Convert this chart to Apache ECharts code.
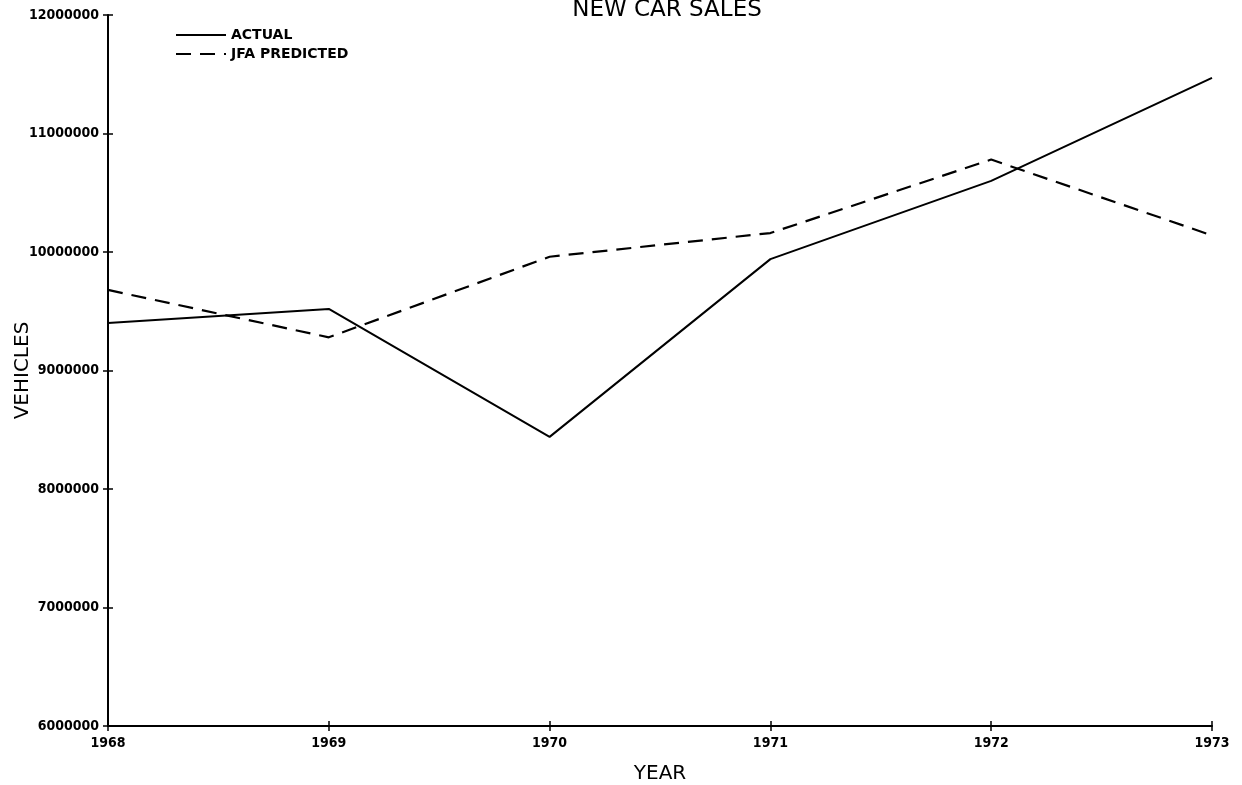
<!DOCTYPE html>
<html>
<head>
<meta charset="utf-8">
<title>New Car Sales</title>
<script src="https://cdn.jsdelivr.net/npm/echarts@6/dist/echarts.min.js"></script>
<style>
  html, body { margin: 0; padding: 0; background: #fff; }
  #chart { width: 1242px; height: 785px; }
</style>
</head>
<body>
<div id="chart"></div>
<script>
  // values
  const years = ["1968", "1969", "1970", "1971", "1972", "1973"];
  const actual = [9400000, 9520000, 8440000, 9940000, 10600000, 11470000];
  const predicted = [9680000, 9280000, 9960000, 10160000, 10780000, 10140000];

  const font = "'DejaVu Sans Condensed', 'DejaVu Sans', sans-serif";
  const wideFont = "'DejaVu Sans', sans-serif";
  const ink = "#000";

  // plot box
  const gridLeft = 108, gridRight = 30, gridTop = 15, gridBottom = 59;
  const plotW = 1242 - gridLeft - gridRight;
  const plotH = 785 - gridTop - gridBottom;

  const chart = echarts.init(document.getElementById("chart"));
  const option = {
    animation: false,
    backgroundColor: "#fff",
    title: {
      text: "NEW CAR SALES",
      left: 662,
      textAlign: "center",
      top: -6,
      textStyle: { fontFamily: wideFont, fontSize: 23, fontWeight: "normal", color: ink },
    },
    legend: {
      orient: "vertical",
      left: 170,
      top: 23,
      itemWidth: 50,
      itemHeight: 10,
      itemGap: 5,
      itemStyle: { opacity: 0 },
      textStyle: { fontFamily: wideFont, fontSize: 14, fontWeight: "bold", color: ink },
      data: ["ACTUAL", "JFA PREDICTED"],
    },
    grid: {
      left: gridLeft, right: gridRight, top: gridTop, bottom: gridBottom,
      containLabel: false, outerBoundsMode: "none",
    },
    xAxis: [
      {
        type: "category",
        data: years,
        boundaryGap: false,
        name: "YEAR",
        nameLocation: "middle",
        nameGap: 38,
        nameMoveOverlap: false,
        nameTextStyle: { fontFamily: wideFont, fontSize: 20, color: ink },
        axisLine: { lineStyle: { color: ink, width: 2 } },
        axisTick: { length: 5, lineStyle: { color: ink, width: 1.5 } },
        axisLabel: { margin: 10, fontFamily: font, fontSize: 14, fontWeight: "bold", color: ink },
        splitLine: { show: false },
      },
      {
        // upper half of the cross ticks: this axis lands on top, pulled down onto the x axis
        type: "category",
        data: years,
        boundaryGap: false,
        offset: -plotH,
        axisLine: { show: false },
        axisTick: { show: true, length: 5, lineStyle: { color: ink, width: 1.5 } },
        axisLabel: { show: false },
        splitLine: { show: false },
      },
    ],
    yAxis: [
      {
        type: "value",
        min: 6000000,
        max: 12000000,
        interval: 1000000,
        name: "VEHICLES",
        nameLocation: "middle",
        nameRotate: 90,
        nameGap: 75,
        nameMoveOverlap: false,
        nameTextStyle: { fontFamily: wideFont, fontSize: 20, color: ink },
        axisLine: { show: true, lineStyle: { color: ink, width: 2 } },
        axisTick: { show: true, length: 5, lineStyle: { color: ink, width: 1.5 } },
        axisLabel: {
          margin: 9, fontFamily: font, fontSize: 14, fontWeight: "bold", color: ink,
          formatter: (v) => String(v),
        },
        splitLine: { show: false },
      },
      {
        // right half of the cross ticks: lands on the right, pulled over onto the y axis
        type: "value",
        min: 6000000,
        max: 12000000,
        interval: 1000000,
        offset: -plotW,
        axisLine: { show: false },
        axisTick: { show: true, length: 5, lineStyle: { color: ink, width: 1.5 } },
        axisLabel: { show: false },
        splitLine: { show: false },
      },
    ],
    series: [
      {
        name: "ACTUAL",
        type: "line",
        data: actual,
        symbol: "none",
        color: ink,
        lineStyle: { color: ink, width: 2, type: "solid" },
      },
      {
        name: "JFA PREDICTED",
        type: "line",
        data: predicted,
        symbol: "none",
        color: ink,
        lineStyle: { color: ink, width: 2.2, type: [15, 9] },
      },
    ],
  };
  chart.setOption(option);
</script>
</body>
</html>
